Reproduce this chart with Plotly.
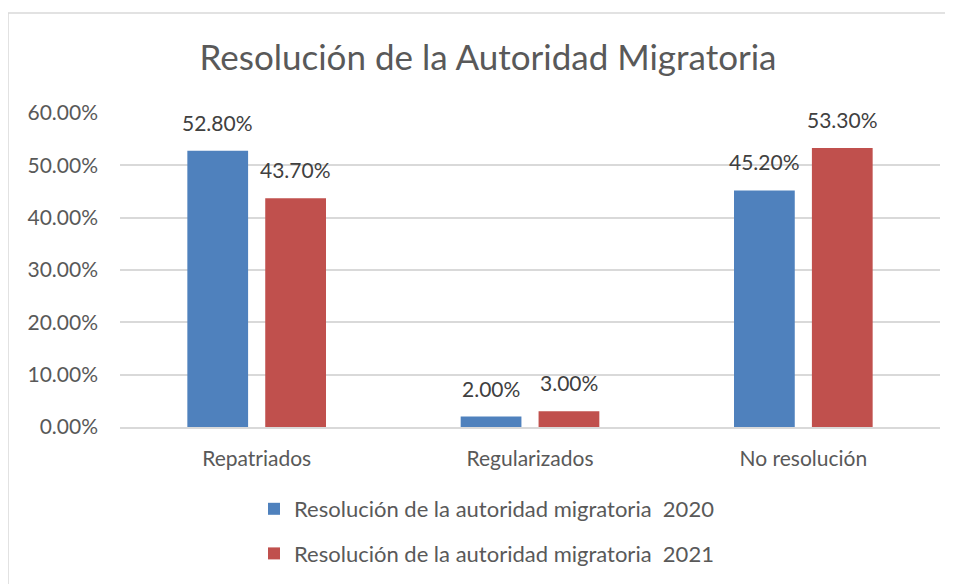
import plotly.graph_objects as go

categories = ["Repatriados", "Regularizados", "No resolución"]
vals_2020 = [0.528, 0.02, 0.452]
vals_2021 = [0.437, 0.03, 0.533]
series_names = ["Resolución de la autoridad migratoria  2020",
                "Resolución de la autoridad migratoria  2021"]
tick_vals = [0, 0.1, 0.2, 0.3, 0.4, 0.5, 0.6]

# page body has an 8px margin; work in page pixels and convert
OFF = 8
W, H = 945, 576
L, R, T, B = 120 - OFF, 13, 113 - OFF, 576 - (427 - OFF)
pw, ph = W - L - R, H - T - B

def px_x(p):
    return (p - OFF - L) / pw

def px_y(p):
    return (H - B - (p - OFF)) / ph

FONT = "Lato, Carlito, Calibri, sans-serif"
LBL = 21

fig = go.Figure()
fig.add_trace(go.Bar(x=categories, y=vals_2020, name=series_names[0], legendgroup="a",
                     marker=dict(color="#4F81BD", line=dict(width=0))))
fig.add_trace(go.Bar(x=categories, y=vals_2021, name=series_names[1], legendgroup="b",
                     marker=dict(color="#C0504D", line=dict(width=0))))

annotations = []
for vals, shift in ((vals_2020, -39), (vals_2021, 39)):
    for c, v in zip(categories, vals):
        annotations.append(dict(x=c, y=v, xref="x", yref="y", text=f"{v*100:.2f}%",
                                showarrow=False, xshift=shift, yshift=14, yanchor="bottom",
                                font=dict(size=LBL, color="#404040", family=FONT)))

fig.update_layout(
    width=W, height=H,
    margin=dict(l=L, r=R, t=T, b=B, autoexpand=False),
    paper_bgcolor="white", plot_bgcolor="white",
    barmode="group", bargap=0.43, bargroupgap=0.22,
    title=dict(text="Resolución de la Autoridad Migratoria", x=px_x(488), xref="paper",
               xanchor="center", y=1 - (58 - OFF) / H, yanchor="middle",
               font=dict(size=35, color="#595959", family=FONT)),
    font=dict(family=FONT, color="#595959"),
    legend=dict(orientation="v", x=px_x(254), xanchor="left", y=px_y(488), yanchor="top",
                font=dict(size=22, color="#595959", family=FONT),
                tracegroupgap=13, itemwidth=30, bgcolor="rgba(0,0,0,0)"),
    xaxis=dict(showgrid=False, showline=True, linecolor="#D9D9D9", linewidth=1.5,
               ticks="", tickfont=dict(size=LBL, color="#595959", family=FONT),
               ticklabelstandoff=12),
    yaxis=dict(range=[0, 0.6], tickvals=tick_vals, tickformat=".2%",
               showgrid=True, gridcolor="#D9D9D9", gridwidth=1.5,
               zeroline=False, showline=False, ticks="",
               tickfont=dict(size=LBL, color="#595959", family=FONT), ticklabelstandoff=21),
    annotations=annotations,
    shapes=[dict(type="rect", xref="paper", yref="paper",
                 x0=px_x(8), x1=px_x(965), y0=px_y(600), y1=px_y(13),
                 line=dict(color="#D9D9D9", width=1.5), fillcolor="rgba(0,0,0,0)", layer="below")],
)

fig.write_html("out.html")
